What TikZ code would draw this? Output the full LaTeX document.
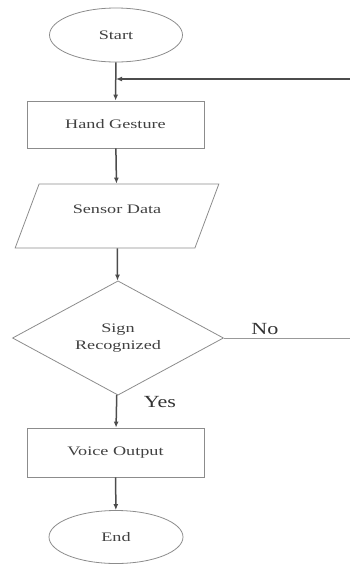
\documentclass[tikz,border=0pt]{standalone}
\usepackage{fontspec}
\setmainfont{Liberation Serif}
\newfontfamily\chartfont{Liberation Serif}
\usepackage{tikz}
\usetikzlibrary{arrows.meta,positioning,shapes.geometric}
\newcommand{\wide}[1]{\scalebox{1.4}[1]{#1}}
\begin{document}
\begin{tikzpicture}[
	all node/.style={outer sep=0pt},
	box/.style={draw=black!45, line width=0.8pt, inner sep=0pt, text=black!75, font=\chartfont\fontsize{13}{17}\selectfont},
	flow/.style={draw=black!70, line width=1.5pt, -{Latex[length=6pt,width=5pt]}},
	side/.style={draw=black!40, line width=0.8pt},
	tag/.style={text=black!80, font=\chartfont\fontsize{17}{19}\selectfont}
	]
		\useasboundingbox (0pt,0pt) rectangle (350pt,-566pt);
		\node[box, ellipse]	(start)		at	(116pt,-35pt)		[minimum width=133pt, minimum height=54pt]	{\wide{Start}};
		\node[box]		(hand)		at	(115.5pt,-124.5pt)	[minimum width=177pt, minimum height=47pt]	{\wide{Hand Gesture}};
		\node[box, trapezium, trapezium left angle=59, trapezium right angle=121, trapezium stretches=true]
					(sensor)	at	(117pt,-216pt)		[minimum width=204pt, minimum height=64pt, text depth=14pt]	{\wide{Sensor Data}};
		\node[box, diamond, align=center]
					(sign)		at	(118pt,-338pt)		[minimum width=211pt, minimum height=109pt]	{\wide{Sign}\\\wide{Recognized}};
		\node[box]		(voice)		at	(115.5pt,-452.5pt)	[minimum width=177pt, minimum height=49pt]	{\wide{Voice Output}};
		\node[box, ellipse]	(end)		at	(116pt,-537pt)		[minimum width=134pt, minimum height=53pt]	{\wide{End}};
		
		\coordinate	(loop)		at	(116pt,-79pt);
		\coordinate	(loopr)		at	(350pt,-79pt);
		\coordinate	(nor)		at	(350pt,-338pt);
		
		\draw[flow] (start) 	-- (hand);
		\draw[flow] (loopr)	-- (loop);
		\draw[flow] (hand) 	-- (sensor);
		\draw[flow] (sensor) 	-- (sign);
		\draw[flow] (sign)	-- (voice);
		\draw[flow] (voice)	-- (end);
		\draw[side] (sign.east)	-- (nor);
		
		\node[tag]		(no)		at	(265pt,-329pt)		{\scalebox{1.3}[1]{No}};
		\node[tag]		(yes)		at	(160pt,-402pt)		{\scalebox{1.3}[1]{Yes}};
	\end{tikzpicture}
\end{document}
